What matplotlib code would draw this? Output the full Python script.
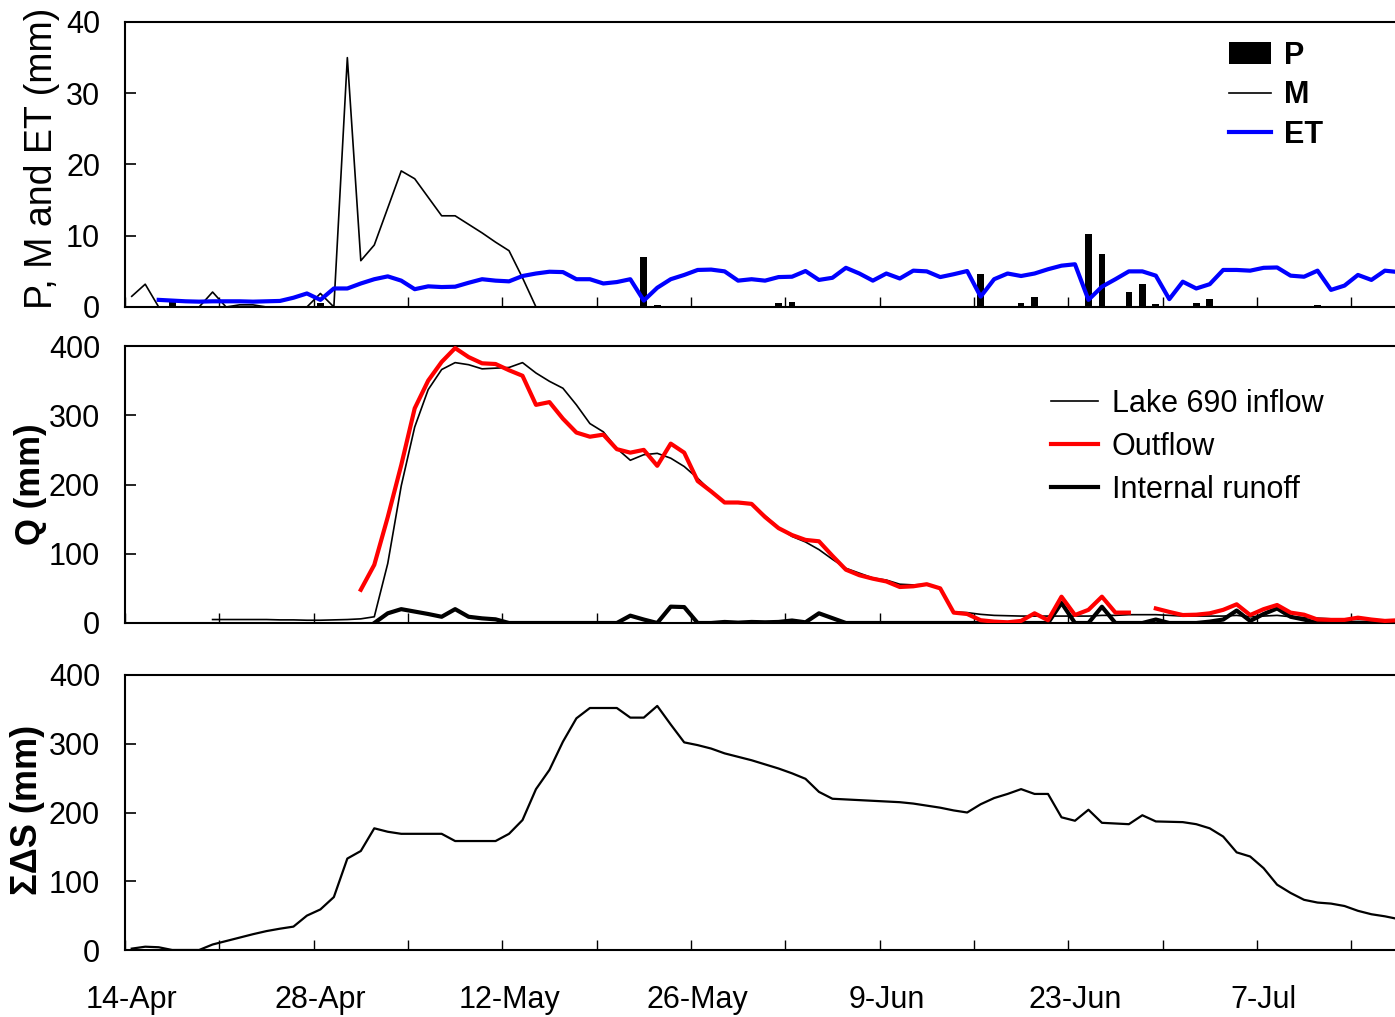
import numpy as np
import matplotlib
matplotlib.use('Agg')
import matplotlib.pyplot as plt

plt.rcParams['font.family'] = ['Liberation Sans', 'DejaVu Sans']
plt.rcParams['font.size'] = 22

nan = np.nan

# daily values, 14-Apr .. 17-Jul (day 0 .. 94)
tick_labels = ['14-Apr', '28-Apr', '12-May', '26-May', '9-Jun', '23-Jun', '7-Jul']

precip = [0, 0.1, 0, 0.8, 0, 0, 0, 0, 0, 0,
          0, 0, 0, 0, 0.5, 0, 0, 0, 0, 0,
          0, 0, 0, 0, 0, 0, 0, 0, 0, 0,
          0, 0.1, 0.15, 0, 0, 0, 0, 0, 7.0, 0.3,
          0, 0, 0, 0, 0, 0, 0, 0, 0.5, 0.75,
          0, 0, 0.15, 0, 0, 0, 0, 0, 0, 0,
          0, 0, 0, 4.6, 0, 0, 0.6, 1.4, 0, 0,
          0, 10.3, 7.5, 0.1, 2.1, 3.2, 0.45, 0.15, 0, 0.55,
          1.1, 0, 0, 0, 0, 0, 0, 0, 0.35, 0,
          0, 0, 0.15, 0, 0]

melt = [1.5, 3.2, 0, 0, 0, 0, 2.1, 0, 0.3, 0.3,
        0, 0, 0, 0, 1.9, 0, 35.0, 6.5, 8.7, 13.9,
        19.1, 18.0, 15.4, 12.8, 12.8, 11.6, 10.4, 9.1, 7.9, 4.1,
        0, 0, 0, 0, 0, 0, 0, 0, 0, 0,
        0, 0, 0, 0, 0, 0, 0, 0, 0, 0,
        0, 0, 0, 0, 0, 0, 0, 0, 0, 0,
        0, 0, 0, 0, 0, 0, 0, 0, 0, 0,
        0, 0, 0, 0, 0, 0, 0, 0, 0, 0,
        0, 0, 0, 0, 0, 0, 0, 0, 0, 0,
        0, 0, 0, 0, 0]

et = [nan, nan, 1.0, 0.9, 0.8, 0.75, 0.8, 0.8, 0.8, 0.75,
      0.8, 0.85, 1.3, 1.9, 1.0, 2.6, 2.6, 3.3, 3.9, 4.3,
      3.7, 2.5, 2.9, 2.8, 2.85, 3.4, 3.9, 3.7, 3.6, 4.35,
      4.7, 4.95, 4.9, 3.9, 3.9, 3.3, 3.5, 3.9, 0.9, 2.7,
      3.9, 4.5, 5.2, 5.25, 5.0, 3.7, 3.9, 3.7, 4.2, 4.25,
      5.05, 3.8, 4.1, 5.5, 4.7, 3.7, 4.7, 4.0, 5.1, 5.0,
      4.2, 4.6, 5.05, 1.45, 3.9, 4.7, 4.35, 4.7, 5.3, 5.8,
      6.0, 1.0, 2.85, 3.9, 5.0, 5.0, 4.4, 1.1, 3.55, 2.6,
      3.2, 5.2, 5.2, 5.1, 5.5, 5.55, 4.4, 4.25, 5.1, 2.4,
      3.0, 4.5, 3.8, 5.1, 4.9]

inflow = [nan, nan, nan, nan, nan, nan, 5, 5, 5, 5,
          5, 4.5, 4.5, 4, 4, 4.5, 5, 6, 9, 86,
          198, 283, 337, 366, 376, 373, 367, 368, 369, 376,
          361, 349, 339, 315, 288, 276, 252, 235, 243, 245,
          238, 226, 209, 190, 174, 173, 172, 155, 138, 125,
          117, 106, 92, 79, 72, 65, 62, 56, 55, 56,
          50, 16, 15, 12.5, 11, 10.5, 10, 10, 10, 10,
          10, 10, 11, 11, 12, 12, 12, 11, 10, 10,
          10, 10, 11, 9, 10, 11, 9, 8, 7, 6,
          5, 5, 5, 4, 4]

outflow = [nan, nan, nan, nan, nan, nan, nan, nan, nan, nan,
           nan, nan, nan, nan, nan, nan, nan, 48, 84, 153,
           228, 310, 350, 377, 397, 384, 375, 374, 365, 357,
           315, 319, 295, 275, 269, 272, 251, 246, 250, 227,
           259, 246, 205, 190, 174, 174, 172, 153, 137, 127,
           120, 118, 97, 77, 69, 64, 60, 52, 53, 56,
           50, 15, 13, 4, 2, 1, 3, 14, 4, 38,
           11.5, 19, 38, 15, 15, nan, 21, 16, 11.5, 12,
           14, 19, 27, 11.5, 20, 26, 15, 12, 5, 4.5,
           4.5, 7.7, 5, 3, 4]

internal = [nan, nan, nan, nan, nan, nan, nan, nan, nan, nan,
            nan, nan, nan, nan, nan, nan, nan, nan, 0, 14,
            20, 16.5, 13, 9, 20, 9, 6.7, 5.3, 0, 0,
            0, 0, 0, 0, 0, 0, 0, 10.6, 5, 0,
            23.6, 23, 0, 0, 1.5, 0.5, 1.5, 1, 1.5, 3.6,
            1, 14, 7, 0, 0, 0, 0, 0, 0, 0,
            0, 0, 0, 0, 0, 0, 0, 0, 0, 29,
            0, 0, 23.5, 0, 0, 0, 5, 0, 0, 0,
            2, 5, 18, 3, 13, 21, 9, 5, 0, 0,
            0, 0, 0, 0, 0]

storage = [2, 4.8, 4, 0, 0, 0, 8, 13, 18, 23,
           27.5, 31, 34, 50, 59, 77, 133, 144, 177, 172,
           169, 169, 169, 169, 158.5, 158.5, 158.5, 158.5, 169, 189,
           234, 262, 303, 337, 352, 352, 352, 338, 338, 355,
           328, 302, 298, 293, 286, 281, 276, 270, 264, 257,
           249, 230, 220, 219, 218, 217, 216, 215, 213, 210,
           207, 203, 200, 212, 221, 227, 234, 227, 227, 193,
           188, 204, 185, 184, 183, 196, 187, 186.5, 186, 183,
           177, 165, 142, 136, 119, 95, 83, 73, 69, 67.5,
           64, 57, 52, 49, 45]

x = np.arange(len(storage)) + 0.5

fig = plt.figure(figsize=(13.95, 10.17), dpi=100)
W = 1270 / 1395
ax1 = fig.add_axes([125 / 1395, 1 - 307 / 1017, W, 285 / 1017])
ax2 = fig.add_axes([125 / 1395, 1 - 623 / 1017, W, 277 / 1017], sharex=ax1)
ax3 = fig.add_axes([125 / 1395, 1 - 950 / 1017, W, 275 / 1017], sharex=ax1)

# top panel: precipitation, melt, evapotranspiration
b_p = ax1.bar(x, precip, width=0.5, color='black', label='P', zorder=2)
l_m, = ax1.plot(x, melt, color='black', lw=1.2, label='M', zorder=3)
l_et, = ax1.plot(x, et, color='#0000ff', lw=3, label='ET', zorder=4)
ax1.set_ylim(0, 40)
ax1.set_yticks([0, 10, 20, 30, 40])
ax1.set_ylabel('P, M and ET (mm)', fontsize=27)
ax1.yaxis.set_label_coords(-0.051, 0.52)
ax1.legend([b_p, l_m, l_et], ['P', 'M', 'ET'], loc='upper left',
           bbox_to_anchor=(0.869, 0.935), frameon=False,
           handlelength=1.4, handletextpad=0.4, labelspacing=0.32,
           borderpad=0, borderaxespad=0, prop={'weight': 'bold', 'size': 22})

# middle panel: discharge
l_in, = ax2.plot(x, inflow, color='black', lw=1.2, label='Lake 690 inflow', zorder=2)
l_int, = ax2.plot(x, internal, color='black', lw=3, label='Internal runoff', zorder=3)
l_out, = ax2.plot(x, outflow, color='#ff0000', lw=3, label='Outflow', zorder=4)
ax2.set_ylim(0, 400)
ax2.set_yticks([0, 100, 200, 300, 400])
ax2.set_ylabel('Q (mm)', fontweight='bold', fontsize=25)
ax2.yaxis.set_label_coords(-0.0614, 0.5)
ax2.legend([l_in, l_out, l_int], ['Lake 690 inflow', 'Outflow', 'Internal runoff'],
           loc='upper left', bbox_to_anchor=(0.729, 0.845), frameon=False,
           handlelength=1.55, handletextpad=0.45, labelspacing=0.42,
           borderpad=0, borderaxespad=0, fontsize=22)

# bottom panel: cumulative storage change
ax3.plot(x, storage, color='black', lw=1.6)
ax3.set_ylim(0, 400)
ax3.set_yticks([0, 100, 200, 300, 400])
ax3.set_ylabel('\u03a3\u0394S (mm)', fontweight='bold', fontsize=26)
ax3.yaxis.set_label_coords(-0.063, 0.51)

# date labels sit at the centre of every 14th day
ax3.set_xticks(np.arange(0, 85, 14) + 0.5, minor=True)
ax3.set_xticklabels(tick_labels, minor=True)

for ax in (ax1, ax2, ax3):
    ax.set_xlim(0, 94.25)
    ax.spines['right'].set_visible(False)
    for s in ('top', 'left', 'bottom'):
        ax.spines[s].set_linewidth(1.5)
    ax.set_xticks(np.arange(0, 95, 7))
    ax.tick_params(axis='x', which='major', direction='in', length=7, width=1,
                   labelbottom=False)
    ax.tick_params(axis='x', which='minor', length=0, pad=25, labelsize=22,
                   labelbottom=(ax is ax3))
    ax.tick_params(axis='y', direction='in', length=8, width=1.2, pad=18, labelsize=22)

fig.savefig('out.png', dpi=100)
